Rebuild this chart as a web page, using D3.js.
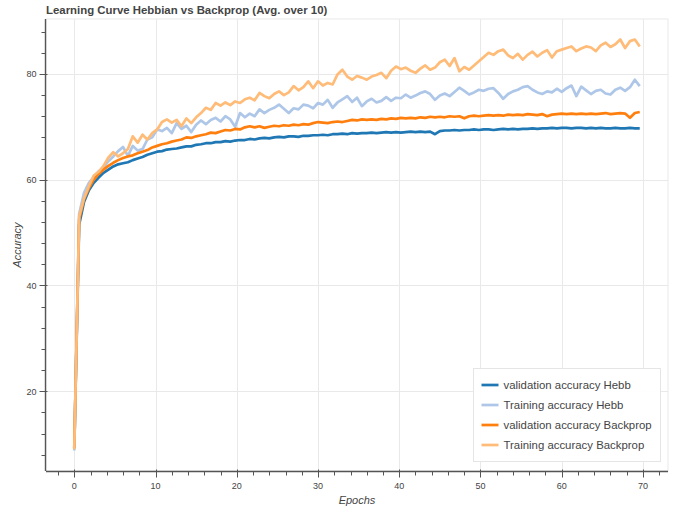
<!DOCTYPE html>
<html>
<head>
<meta charset="utf-8">
<script src="https://cdn.jsdelivr.net/npm/d3@7/dist/d3.min.js"></script>
<style>
  html, body { margin: 0; padding: 0; background: #fff; }
  svg { display: block; }
  text { font-family: "Liberation Sans", Arial, Helvetica, sans-serif; }
</style>
</head>
<body>
<svg id="chart" width="681" height="510"></svg>
<script>
// ---------------- data ----------------
const titleText = "Learning Curve Hebbian vs Backprop (Avg. over 10)";
const xLabel = "Epochs";
const yLabel = "Accuracy";
const seriesNames = ["validation accuracy Hebb", "Training accuracy Hebb", "validation accuracy Backprop", "Training accuracy Backprop"];
const seriesColors = ["#1f77b4", "#aec7e8", "#ff7f0e", "#ffbb78"];
const xTicks = [0, 10, 20, 30, 40, 50, 60, 70];
const yTicks = [20, 40, 60, 80];
const epochStep = 0.6; // sampling interval in epochs

const valHebb = [
  9.2, 51.5, 55.8, 58.0, 59.4, 60.4, 61.3, 61.9, 62.5, 62.9,
  63.1, 63.3, 63.7, 64.0, 64.3, 64.7, 65.0, 65.3, 65.4, 65.7,
  65.8, 65.9, 66.1, 66.3, 66.3, 66.6, 66.7, 66.9, 66.9, 67.1,
  67.1, 67.3, 67.2, 67.4, 67.5, 67.5, 67.7, 67.6, 67.8, 67.9,
  67.8, 68.0, 68.1, 68.0, 68.2, 68.2, 68.1, 68.3, 68.3, 68.4,
  68.4, 68.5, 68.4, 68.6, 68.6, 68.7, 68.6, 68.8, 68.7, 68.8,
  68.8, 68.9, 68.8, 68.9, 69.0, 68.9, 69.0, 68.9, 69.0, 69.1,
  69.0, 69.1, 69.0, 69.1, 68.6, 69.2, 69.3, 69.3, 69.4, 69.3,
  69.4, 69.4, 69.5, 69.4, 69.5, 69.5, 69.4, 69.5, 69.6, 69.5,
  69.6, 69.5, 69.6, 69.6, 69.7, 69.6, 69.7, 69.7, 69.8, 69.7,
  69.8, 69.8, 69.7, 69.8, 69.8, 69.7, 69.8, 69.7, 69.8, 69.7,
  69.7, 69.8, 69.7, 69.7, 69.8, 69.7, 69.7
];
const trainHebb = [
  8.8, 53.5, 57.5, 59.4, 60.5, 61.6, 62.3, 63.5, 64.4, 65.4,
  66.2, 64.5, 66.4, 65.5, 65.8, 67.6, 68.0, 69.5, 69.2, 69.8,
  68.8, 70.7, 69.6, 70.2, 69.0, 70.4, 71.2, 70.5, 71.3, 71.7,
  71.0, 72.0, 71.4, 70.0, 72.6, 71.8, 72.5, 72.0, 73.3, 72.6,
  73.2, 73.6, 74.2, 73.4, 72.6, 73.5, 73.3, 74.2, 74.0, 73.5,
  74.5, 74.2, 75.1, 73.6, 74.6, 75.2, 75.8, 74.7, 75.5, 73.9,
  74.8, 75.3, 74.6, 74.9, 75.6, 74.9, 75.5, 75.4, 76.1, 75.5,
  75.9, 76.4, 76.7, 76.2, 75.1, 75.9, 76.3, 75.8, 76.6, 77.4,
  76.8, 76.1, 76.5, 77.0, 76.8, 77.2, 77.3, 76.4, 75.3, 76.2,
  76.7, 77.0, 77.5, 77.7, 77.0, 76.5, 76.2, 76.7, 76.5, 77.2,
  76.6, 77.3, 77.8, 75.8, 77.6, 76.9, 76.2, 76.8, 77.0, 76.3,
  76.1, 77.0, 77.4, 76.8, 77.5, 78.9, 77.7
];
const valBackprop = [
  9.3, 52.5, 56.3, 58.4, 60.0, 61.1, 61.9, 62.6, 63.2, 63.7,
  64.1, 64.4, 64.6, 65.0, 65.3, 65.6, 66.1, 66.4, 66.7, 66.9,
  67.2, 67.4, 67.6, 68.0, 67.9, 68.2, 68.4, 68.6, 68.9, 68.8,
  69.1, 69.4, 69.3, 69.6, 69.5, 69.9, 70.1, 69.9, 70.1, 69.8,
  70.0, 70.2, 70.1, 70.3, 70.2, 70.4, 70.3, 70.5, 70.4, 70.7,
  70.9, 70.8, 70.7, 70.9, 71.0, 70.9, 71.1, 71.3, 71.2, 71.4,
  71.3, 71.4, 71.3, 71.5, 71.4, 71.6, 71.5, 71.7, 71.6, 71.7,
  71.6, 71.8, 71.7, 71.9, 71.8, 71.9, 71.8, 72.0, 71.9, 72.0,
  71.6, 72.0, 72.1, 72.0, 72.1, 72.2, 72.1, 72.2, 72.1, 72.3,
  72.2, 72.3, 72.2, 72.4, 72.3, 72.2, 72.4, 72.0, 72.3, 72.4,
  72.5, 72.4, 72.5, 72.4, 72.5, 72.4, 72.5, 72.4, 72.5, 72.6,
  72.4, 72.5, 72.6, 72.5, 71.7, 72.6, 72.8
];
const trainBackprop = [
  9.0, 53.0, 56.5, 58.8, 60.8, 61.5, 62.6, 64.2, 65.2, 64.4,
  65.0, 65.8, 68.2, 67.0, 68.5, 67.6, 68.8, 69.5, 70.9, 71.4,
  70.8, 71.3, 70.1, 71.6, 70.7, 71.8, 72.6, 73.6, 73.2, 74.5,
  74.0, 74.6, 74.1, 74.8, 74.5, 75.2, 75.5, 75.0, 76.4, 75.8,
  75.4, 76.2, 76.7, 76.0, 76.5, 77.7, 76.9, 77.5, 78.6, 77.3,
  78.6, 77.8, 78.3, 78.0, 79.9, 80.8, 79.5, 78.9, 79.6, 79.3,
  78.9, 79.5, 79.8, 80.2, 79.2, 80.6, 81.4, 80.9, 81.2, 80.6,
  80.2, 81.0, 81.6, 80.8, 81.2, 82.2, 82.7, 81.5, 83.0, 80.5,
  81.3, 80.8, 81.6, 82.4, 83.2, 84.0, 83.6, 84.3, 84.6, 83.5,
  83.0, 83.8, 82.7, 83.6, 84.2, 83.3, 84.0, 84.5, 83.1, 84.3,
  84.6, 84.9, 85.2, 84.3, 84.8, 85.2, 85.0, 84.3, 85.4, 85.9,
  85.1, 85.6, 86.5, 84.9, 86.2, 86.5, 85.2
];
const allSeries = [valHebb, trainHebb, valBackprop, trainBackprop];

// ---------------- layout ----------------
const frame = { left: 46, right: 668, top: 19, bottom: 471 };
const svg = d3.select("#chart");

// Bokeh-style data ranges with 5% padding on each side
const xMax = (valHebb.length - 1) * epochStep;
const xPad = xMax * 0.05;
const yMin = d3.min(allSeries, s => d3.min(s));
const yMax = d3.max(allSeries, s => d3.max(s));
const yPad = (yMax - yMin) * 0.05;

const x = d3.scaleLinear().domain([-xPad, xMax + xPad]).range([frame.left, frame.right]);
const y = d3.scaleLinear().domain([yMin - yPad, yMax + yPad]).range([frame.bottom, frame.top]);

const gridColor = "#e9e9e9";
const axisColor = "#555";
const labelColor = "#444";

// frame outline
svg.append("rect")
  .attr("x", frame.left).attr("y", frame.top)
  .attr("width", frame.right - frame.left).attr("height", frame.bottom - frame.top)
  .attr("fill", "none").attr("stroke", gridColor).attr("stroke-width", 1);

// grid
const grid = svg.append("g");
grid.selectAll(".gx").data(xTicks).enter().append("line")
  .attr("x1", d => Math.round(x(d)) + 0.5).attr("x2", d => Math.round(x(d)) + 0.5)
  .attr("y1", frame.top).attr("y2", frame.bottom)
  .attr("stroke", gridColor).attr("stroke-width", 1);
grid.selectAll(".gy").data(yTicks).enter().append("line")
  .attr("y1", d => Math.round(y(d)) + 0.5).attr("y2", d => Math.round(y(d)) + 0.5)
  .attr("x1", frame.left).attr("x2", frame.right)
  .attr("stroke", gridColor).attr("stroke-width", 1);

// lines
const line = d3.line()
  .x((d, i) => x(i * epochStep))
  .y(d => y(d));
const plot = svg.append("g");
allSeries.forEach((s, k) => {
  plot.append("path")
    .datum(s)
    .attr("d", line)
    .attr("fill", "none")
    .attr("stroke", seriesColors[k])
    .attr("stroke-width", 2.7)
    .attr("stroke-linejoin", "round");
});

// axes
const minorX = d3.range(-2, xMax + xPad, 2);
const minorY = d3.range(8, yMax + yPad, 4);

const xAxis = svg.append("g").attr("transform", `translate(0,${frame.bottom + 0.5})`);
xAxis.append("line").attr("x1", frame.left).attr("x2", frame.right)
  .attr("stroke", axisColor).attr("stroke-width", 1.4);
xAxis.selectAll(".mn").data(minorX).enter().append("line")
  .attr("x1", d => Math.round(x(d)) + 0.5).attr("x2", d => Math.round(x(d)) + 0.5)
  .attr("y1", 0).attr("y2", 4).attr("stroke", axisColor);
xAxis.selectAll(".mj").data(xTicks).enter().append("line")
  .attr("x1", d => Math.round(x(d)) + 0.5).attr("x2", d => Math.round(x(d)) + 0.5)
  .attr("y1", -2).attr("y2", 6).attr("stroke", axisColor);
xAxis.selectAll(".tl").data(xTicks).enter().append("text")
  .attr("x", d => x(d)).attr("y", 17)
  .attr("text-anchor", "middle").attr("font-size", "9px").attr("fill", labelColor)
  .text(d => d);

const yAxis = svg.append("g").attr("transform", `translate(${frame.left - 0.5},0)`);
yAxis.append("line").attr("y1", frame.top).attr("y2", frame.bottom)
  .attr("stroke", axisColor).attr("stroke-width", 1.4);
yAxis.selectAll(".mn").data(minorY).enter().append("line")
  .attr("y1", d => Math.round(y(d)) + 0.5).attr("y2", d => Math.round(y(d)) + 0.5)
  .attr("x1", 0).attr("x2", -4).attr("stroke", axisColor);
yAxis.selectAll(".mj").data(yTicks).enter().append("line")
  .attr("y1", d => Math.round(y(d)) + 0.5).attr("y2", d => Math.round(y(d)) + 0.5)
  .attr("x1", 2).attr("x2", -6).attr("stroke", axisColor);
yAxis.selectAll(".tl").data(yTicks).enter().append("text")
  .attr("x", -9).attr("y", d => y(d) + 3.3)
  .attr("text-anchor", "end").attr("font-size", "9px").attr("fill", labelColor)
  .text(d => d);

// axis labels
svg.append("text")
  .attr("x", (frame.left + frame.right) / 2).attr("y", 504)
  .attr("text-anchor", "middle").attr("font-size", "11px").attr("font-style", "italic")
  .attr("fill", labelColor).text(xLabel);
svg.append("text")
  .attr("transform", `translate(21,${(frame.top + frame.bottom) / 2}) rotate(-90)`)
  .attr("text-anchor", "middle").attr("font-size", "11px").attr("font-style", "italic")
  .attr("fill", labelColor).text(yLabel);

// title
svg.append("text")
  .attr("x", frame.left).attr("y", 14)
  .attr("font-size", "11.4px").attr("font-weight", "bold")
  .attr("fill", "#444").text(titleText);

// legend
const legend = svg.append("g");
const lg = { x: 473.5, y: 368.5, w: 187, h: 93 };
legend.append("rect")
  .attr("x", lg.x).attr("y", lg.y).attr("width", lg.w).attr("height", lg.h)
  .attr("fill", "#fff").attr("fill-opacity", 0.95)
  .attr("stroke", "#e5e5e5").attr("stroke-width", 1);
seriesNames.forEach((name, k) => {
  const cy = lg.y + 16.5 + k * 20;
  legend.append("line")
    .attr("x1", lg.x + 8).attr("x2", lg.x + 25)
    .attr("y1", cy).attr("y2", cy)
    .attr("stroke", seriesColors[k]).attr("stroke-width", 2.7);
  legend.append("text")
    .attr("x", lg.x + 30).attr("y", cy + 4)
    .attr("font-size", "11.4px").attr("fill", labelColor)
    .text(name);
});
</script>
</body>
</html>
